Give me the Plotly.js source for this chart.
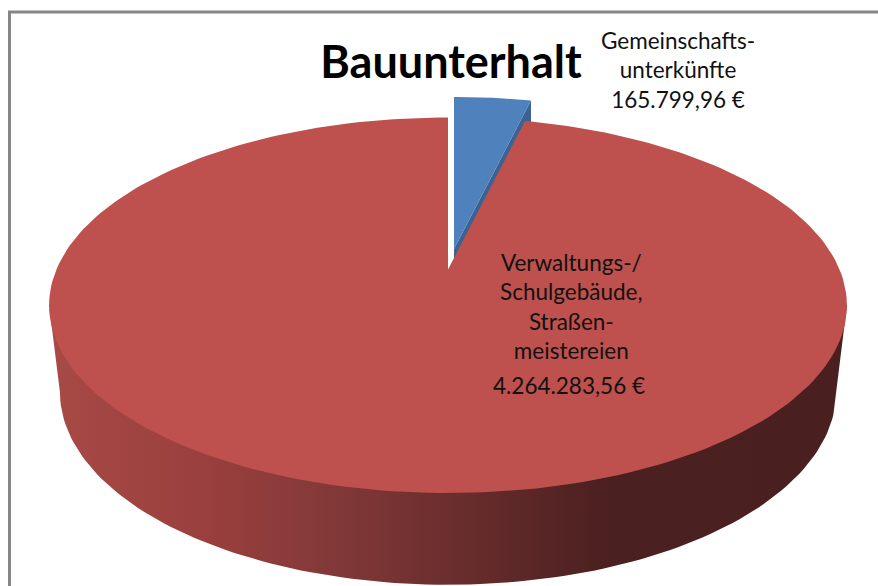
<!DOCTYPE html>
<html>
<head>
<meta charset="utf-8">
<script src="https://cdn.plot.ly/plotly-3.0.1.min.js"></script>
<style>html,body{margin:0;padding:0;background:#fff}#chart{width:878px;height:586px}</style>
</head>
<body>
<div id="chart"></div>
<script>
var chartTitle = 'Bauunterhalt';
var categories = ['Gemeinschafts-<br>unterkünfte', 'Verwaltungs-/<br>Schulgebäude,<br>Straßen-<br>meistereien'];
var values = [165799.96, 4264283.56];
var valueLabels = ['165.799,96 €', '4.264.283,56 €'];
var sliceColors = ['#4F81BD', '#BE504D'];

var total = values[0] + values[1];
var sweep = 2 * Math.PI * values[0] / total;

// projected disc: perspective view of a circle, pixel-like axis units
var K = 0.1905;
function disc(cx, cy, a, b, t) {
  var u = Math.sin(t), v = Math.cos(t), w = 1 + K * v;
  return [cx + a * u / w, cy - b * v / w];
}
function arc(cx, cy, a, b, t0, t1, n) {
  var pts = [];
  for (var i = 0; i <= n; i++) pts.push(disc(cx, cy, a, b, t0 + (t1 - t0) * i / n));
  return pts;
}
function poly(pts, extra) {
  var tr = {type: 'scatter', mode: 'lines', x: pts.map(function (p) { return p[0]; }),
    y: pts.map(function (p) { return p[1]; }), fill: 'toself', line: {width: 0},
    hoverinfo: 'skip', showlegend: false};
  for (var k in extra) tr[k] = extra[k];
  return tr;
}

var A = 391.6, B = 181, CX = 448, CY = 269.5;
var A2 = 381, B2 = 186, CY2 = 355;
var BX = 454, BY = 249, DEPTH = 92;

// outer wall of the large slice; its upper edge runs hidden under the top face
var tExt = Math.acos(-K);               // angle of widest point of the disc
var frontBot = arc(CX, CY2, A2, B2, tExt, 2 * Math.PI - tExt, 120);
var hidden = arc(CX, CY - 6, A - 6, B - 6, 2 * Math.PI - tExt, tExt, 120);
var wall = [disc(CX, CY, A, B, tExt)].concat(frontBot, [disc(CX, CY, A, B, 2 * Math.PI - tExt)], hidden);

// small slice: side wall and top
var blueEdge = disc(BX, BY, A, B, sweep);
var blueWall = [[BX, BY], blueEdge, [blueEdge[0], blueEdge[1] + DEPTH], [BX, BY + DEPTH]];
var blueTop = [[BX, BY]].concat(arc(BX, BY, A, B, 0, sweep, 20));

// large slice top
var redTop = [[CX, CY]].concat(arc(CX, CY, A, B, sweep, 2 * Math.PI, 240));

var traces = [
  poly(blueWall, {fillcolor: '#3A6292', name: 'wall-1'}),
  poly(blueTop, {fillcolor: sliceColors[0], name: categories[0]}),
  poly(wall, {
    name: 'wall-2',
    fillgradient: {type: 'horizontal', colorscale: [
      [0, '#A84A46'], [0.2, '#993F3D'], [0.33, '#863A3A'], [0.5, '#6C2E2E'],
      [0.7, '#4B2020'], [1, '#4A1F1F']]}
  }),
  poly(redTop, {fillcolor: sliceColors[1], name: categories[1]})
];

var textFont = {family: 'Lato, Carlito, sans-serif', size: 22.5, color: '#111111'};

var layout = {
  width: 878, height: 586,
  margin: {l: 0, r: 0, t: 0, b: 0},
  paper_bgcolor: '#ffffff', plot_bgcolor: '#ffffff',
  showlegend: false,
  title: {text: '<b>' + chartTitle + '</b>', x: 451 / 878, y: 1 - 62 / 586,
    xanchor: 'center', yanchor: 'middle',
    font: {family: 'Lato, Carlito, sans-serif', size: 45, color: '#000000'}},
  xaxis: {range: [0, 878], visible: false, fixedrange: true},
  yaxis: {range: [586, 0], visible: false, fixedrange: true},
  shapes: [
    {type: 'line', xref: 'x', yref: 'y', x0: 9.5, x1: 9.5, y0: 12, y1: 586, line: {color: '#868686', width: 3}},
    {type: 'line', xref: 'x', yref: 'y', x0: 8, x1: 878, y0: 12, y1: 12, line: {color: '#868686', width: 3}}
  ],
  annotations: [
    {x: 678, y: 70, xref: 'x', yref: 'y', showarrow: false, xanchor: 'center', yanchor: 'middle', align: 'center',
     text: categories[0] + '<br>' + valueLabels[0], font: textFont},
    {x: 571, y: 306, xref: 'x', yref: 'y', showarrow: false, xanchor: 'center', yanchor: 'middle', align: 'center',
     text: categories[1], font: textFont},
    {x: 569, y: 385, xref: 'x', yref: 'y', showarrow: false, xanchor: 'center', yanchor: 'middle', align: 'center',
     text: valueLabels[1], font: textFont}
  ]
};

Plotly.newPlot('chart', traces, layout, {displayModeBar: false, staticPlot: true});
</script>
</body>
</html>
